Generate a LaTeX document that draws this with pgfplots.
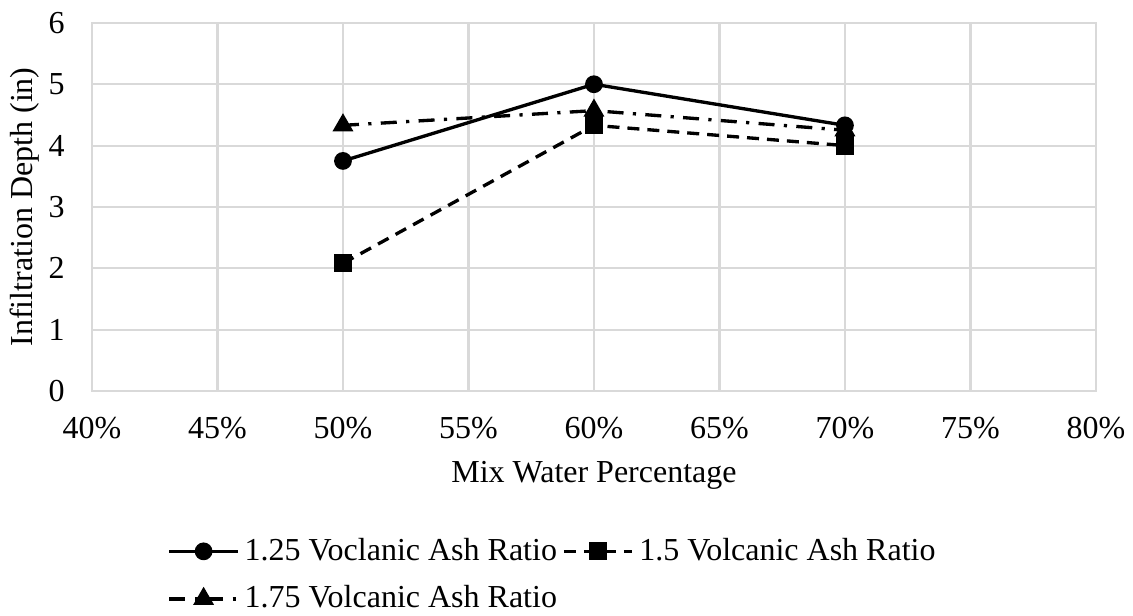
\documentclass[border=0pt]{standalone}
\usepackage{fontspec}
\setmainfont{Liberation Serif}
\usepackage{pgfplots}
\usetikzlibrary{calc}
\pgfplotsset{compat=1.18}
\definecolor{gridgray}{HTML}{D9D9D9}
\begin{document}
\begin{tikzpicture}[x=1pt,y=1pt]
\begin{axis}[
  scale only axis,
  width=376.5pt, height=138pt,
  xmin=40, xmax=80, ymin=0, ymax=6,
  xtick={40,45,...,80},
  xticklabels={40\%,45\%,50\%,55\%,60\%,65\%,70\%,75\%,80\%},
  ytick={0,1,...,6},
  /pgf/number format/assume math mode=true,
  tick label style={font=\fontsize{12}{14}\selectfont},
  xticklabel style={yshift=-6.5pt},
  yticklabel style={xshift=-6.75pt},
  label style={font=\fontsize{12}{14}\selectfont},
  major tick length=0pt,
  grid=major,
  major grid style={gridgray, line width=0.8pt},
  axis line style={gridgray, line width=0.8pt},
  xlabel={Mix Water Percentage},
  ylabel={Infiltration Depth (in)},
  xlabel style={at={(rel axis cs:0.5,-0.25)}, anchor=base},
  ylabel style={at={(rel axis cs:-0.0588,0.5)}, anchor=base},
  legend columns=2,
  legend cell align=left,
  legend style={draw=none, fill=none, font=\fontsize{12}{14}\selectfont,
    at={(rel axis cs:0.067,-0.37)}, anchor=north west,
    /tikz/every even column/.append style={column sep=0pt},
    row sep=4pt},
  legend image code/.code={\draw[mark repeat=2,mark phase=2,#1] plot coordinates {(0cm,0cm) (0.45cm,0cm) (0.9cm,0cm)};},
]
\coordinate (SW) at (rel axis cs:0,0);
\coordinate (NE) at (rel axis cs:1,1);
\addplot[black, line width=1.25pt, mark=*, mark size=2.7pt, mark options={solid}]
  coordinates {(50,3.75) (60,5.0) (70,4.33)};
\addlegendentry{1.25 Voclanic Ash Ratio}
\addplot[black, line width=1.25pt, dash pattern=on 4.5pt off 3pt, mark=square*, mark size=2.8pt, mark options={solid}]
  coordinates {(50,2.08) (60,4.33) (70,4.0)};
\addlegendentry{1.5 Volcanic Ash Ratio}
\addplot[black, line width=1.25pt, dash pattern=on 6pt off 3.5pt on 1.2pt off 3.5pt, mark=triangle*, mark size=3.3pt, mark options={solid}]
  coordinates {(50,4.33) (60,4.57) (70,4.25)};
\addlegendentry{1.75 Volcanic Ash Ratio}
\end{axis}
\pgfresetboundingbox
\path[use as bounding box] ($(SW)+(-34.5pt,-84.4pt)$) rectangle ($(NE)+(13.9pt,8.6pt)$);
\end{tikzpicture}
\end{document}
